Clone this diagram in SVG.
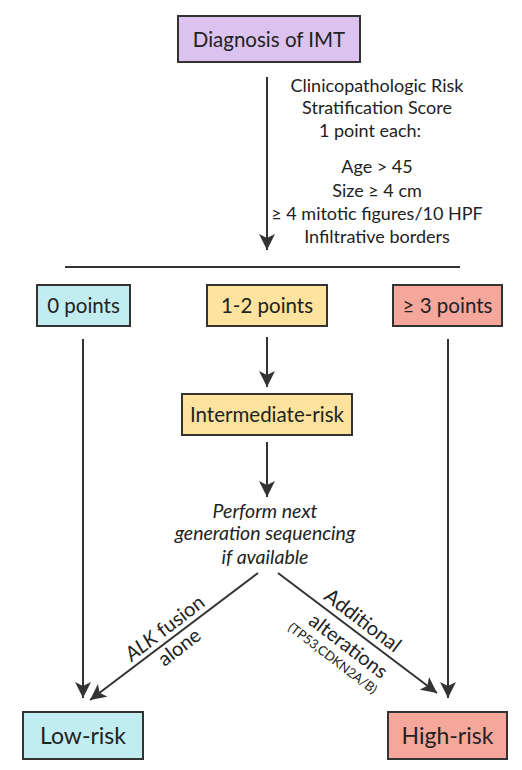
<svg xmlns="http://www.w3.org/2000/svg" width="522" height="770" viewBox="0 0 522 770">
<defs>
<style>
.box{stroke:#333;stroke-width:2}
.t{font-family:Lato,"Open Sans","Liberation Sans",sans-serif;fill:#222;text-anchor:middle}
.ln{stroke:#333;stroke-width:2;fill:none}
</style>
<marker id="ah" markerUnits="userSpaceOnUse" markerWidth="18" markerHeight="16" refX="16" refY="8" orient="auto">
<path d="M0,0 L16,8 L0,16 L4,8 z" fill="#333"/>
</marker>
</defs>
<rect width="522" height="770" fill="#fff"/>
<g id="connectors">
<line class="ln" x1="267" y1="77" x2="267" y2="250" marker-end="url(#ah)"/>
<line class="ln" x1="65" y1="267" x2="460" y2="267"/>
<line class="ln" x1="83" y1="339" x2="83" y2="698" marker-end="url(#ah)"/>
<line class="ln" x1="267" y1="337" x2="267" y2="387" marker-end="url(#ah)"/>
<line class="ln" x1="448" y1="339" x2="448" y2="698" marker-end="url(#ah)"/>
<line class="ln" x1="267" y1="442" x2="267" y2="497" marker-end="url(#ah)"/>
<line class="ln" x1="258" y1="573" x2="90" y2="700" marker-end="url(#ah)"/>
<line class="ln" x1="278" y1="573" x2="437" y2="693" marker-end="url(#ah)"/>
</g>
<g id="diagnosis">
<rect class="box" x="178" y="16" width="182" height="46" fill="#dcc2ef"/>
<text class="t" x="269" y="46.5" font-size="20.5">Diagnosis of IMT</text>
</g>
<g id="score-text" class="t" font-size="18">
<text x="377" y="92" class="t">Clinicopathologic Risk</text>
<text x="377" y="114" class="t">Stratification Score</text>
<text x="370" y="137" class="t">1 point each:</text>
<text x="377" y="173" class="t">Age &gt; 45</text>
<text x="377" y="197" class="t">Size ≥ 4 cm</text>
<text x="377" y="220" class="t">≥ 4 mitotic figures/10 HPF</text>
<text x="377" y="243" class="t">Infiltrative borders</text>
</g>
<g id="zero-points">
<rect class="box" x="37" y="285" width="93" height="41" fill="#c2edf0"/>
<text class="t" x="83.5" y="313" font-size="20.5">0 points</text>
</g>
<g id="one-two-points">
<rect class="box" x="207" y="285" width="120" height="41" fill="#fde39e"/>
<text class="t" x="267" y="313" font-size="20.5">1-2 points</text>
</g>
<g id="three-points">
<rect class="box" x="393" y="285" width="109" height="41" fill="#f6a79b"/>
<text class="t" x="447.5" y="313" font-size="20.5">≥ 3 points</text>
</g>
<g id="intermediate">
<rect class="box" x="182" y="394" width="170" height="41" fill="#fde39e"/>
<text class="t" x="267" y="422" font-size="20.5">Intermediate-risk</text>
</g>
<g id="ngs" font-style="italic">
<text class="t" x="265" y="518" font-size="19.5">Perform next</text>
<text class="t" x="265" y="540" font-size="19.5">generation sequencing</text>
<text class="t" x="265" y="564" font-size="19.5">if available</text>
</g>
<g id="label-alk" transform="translate(170,639) rotate(-37.3)">
<text class="t" x="2.5" y="-5" font-size="20"><tspan font-style="italic">ALK</tspan> fusion</text>
<text class="t" x="2.5" y="19" font-size="20">alone</text>
</g>
<g id="label-additional" transform="translate(320,604) rotate(37.3)">
<text class="t" x="44" y="-6" font-size="20">Additional</text>
<text class="t" x="48" y="23" font-size="20">alterations</text>
<text class="t" x="43" y="40" font-size="13">(TP53,CDKN2A/B)</text>
</g>
<g id="low-risk">
<rect class="box" x="23" y="712" width="120" height="47" fill="#c2edf0"/>
<text class="t" x="83" y="744" font-size="23">Low-risk</text>
</g>
<g id="high-risk">
<rect class="box" x="388" y="712" width="119" height="47" fill="#f6a79b"/>
<text class="t" x="447.5" y="744" font-size="23">High-risk</text>
</g>
</svg>
